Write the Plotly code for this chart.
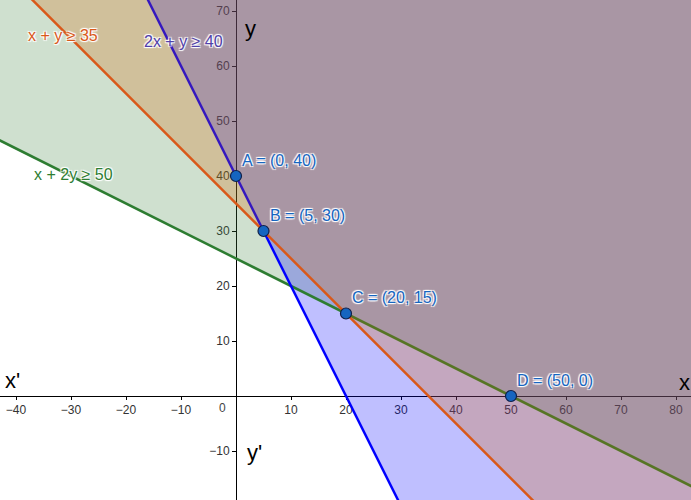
import plotly.graph_objects as go

# Constraints of the form a*x + b*y >= c
constraint_labels = ["x + 2y ≥ 50", "2x + y ≥ 40", "x + y ≥ 35"]
coef_a = [1, 2, 1]
coef_b = [2, 1, 1]
rhs = [50, 40, 35]

# Corner points
point_names = ["A", "B", "C", "D"]
point_x = [0, 5, 20, 50]
point_y = [40, 30, 15, 0]

# Tick values
x_ticks = [-40, -30, -20, -10, 10, 20, 30, 40, 50, 60, 70, 80]
y_ticks = [-10, 10, 20, 30, 40, 50, 60, 70]

# Styles
line_colors = ["#2e7d32", "#0000ff", "#d9581a"]
fill_colors = ["rgba(63,131,63,0.25)", "rgba(0,0,255,0.25)", "rgba(212,96,0,0.25)"]
label_colors = ["#2e7d32", "#5040a8", "#d9581a"]

X_RANGE = [-236 / 5.5, 455 / 5.5]
Y_RANGE = [-104 / 5.5, 396 / 5.5]
FAR_L, FAR_R, FAR_TOP = -300, 400, 3000
FONT = "Liberation Sans, Arial, sans-serif"
HALO = "1px 1px 1px white, -1px -1px 1px white, 1px -1px 1px white, -1px 1px 1px white"


def boundary(i, x):
    return (rhs[i] - coef_a[i] * x) / coef_b[i]


def fill_trace(i):
    xs = [FAR_L, FAR_R, FAR_R, FAR_L, FAR_L]
    ys = [boundary(i, FAR_L), boundary(i, FAR_R), FAR_TOP, FAR_TOP, boundary(i, FAR_L)]
    return go.Scatter(x=xs, y=ys, mode="lines", fill="toself", fillcolor=fill_colors[i],
                      line=dict(width=0), hoverinfo="skip", showlegend=False)


def line_trace(i):
    return go.Scatter(x=[FAR_L, FAR_R], y=[boundary(i, FAR_L), boundary(i, FAR_R)],
                      mode="lines", line=dict(color=line_colors[i], width=2.5),
                      hoverinfo="skip", showlegend=False)


fig = go.Figure()
# layering: green fill, blue fill, green line, blue line, orange fill, orange line
fig.add_trace(fill_trace(0))
fig.add_trace(fill_trace(1))
fig.add_trace(line_trace(0))
fig.add_trace(line_trace(1))
fig.add_trace(fill_trace(2))
fig.add_trace(line_trace(2))

fig.add_trace(go.Scatter(x=point_x, y=point_y, mode="markers",
                         marker=dict(size=11, color="#1565c0", line=dict(color="#10204a", width=1.2)),
                         hoverinfo="skip", showlegend=False))

annotations = []
for n, px, py in zip(point_names, point_x, point_y):
    annotations.append(dict(x=px, y=py, text=f"{n} = ({px}, {py})", showarrow=False,
                            xanchor="left", yanchor="middle", xshift=4, yshift=16,
                            font=dict(family=FONT, size=16, color="#1565c0", shadow=HALO)))

label_pos = [(-37.1, 40.2), (-17.1, 64.5), (-38.2, 65.5)]
for i, (lx, ly) in enumerate(label_pos):
    annotations.append(dict(x=lx, y=ly, text=constraint_labels[i], showarrow=False,
                            xanchor="left", yanchor="middle",
                            font=dict(family=FONT, size=16, color=label_colors[i], shadow=HALO)))

axis_names = [("y", 2.7, 66.9), ("x", 81.6, 2.5), ("x'", -40.6, 2.9), ("y'", 3.3, -10.2)]
for t, ax_, ay_ in axis_names:
    annotations.append(dict(x=ax_, y=ay_, text=t, showarrow=False, xanchor="center", yanchor="middle",
                            font=dict(family=FONT, size=22, color="black")))

annotations.append(dict(x=0, y=0, text="0", showarrow=False, xanchor="center", yanchor="middle",
                        xshift=-14, yshift=-12, font=dict(family=FONT, size=12, color="#444")))

fig.update_layout(
    width=691, height=500, margin=dict(l=0, r=0, t=0, b=0, autoexpand=False),
    plot_bgcolor="white", paper_bgcolor="white",
    annotations=annotations,
    xaxis=dict(range=X_RANGE, showgrid=False, zeroline=False, showline=True, linecolor="black",
               linewidth=1, anchor="free", position=(0 - Y_RANGE[0]) / (Y_RANGE[1] - Y_RANGE[0]),
               tickmode="array", tickvals=x_ticks, ticks="outside", ticklen=3, tickcolor="black",
               tickfont=dict(family=FONT, size=12, color="#333"), fixedrange=True, automargin=False,
               layer="below traces"),
    yaxis=dict(range=Y_RANGE, showgrid=False, zeroline=False, showline=True, linecolor="black",
               linewidth=1, anchor="free", position=(0 - X_RANGE[0]) / (X_RANGE[1] - X_RANGE[0]),
               tickmode="array", tickvals=y_ticks, ticks="outside", ticklen=4, tickcolor="black",
               tickfont=dict(family=FONT, size=12, color="#333"), fixedrange=True, automargin=False,
               layer="below traces"),
)

fig.write_html("out.html", config={"displayModeBar": False},
               post_script="document.body.style.margin='0';document.body.style.overflow='hidden';")
